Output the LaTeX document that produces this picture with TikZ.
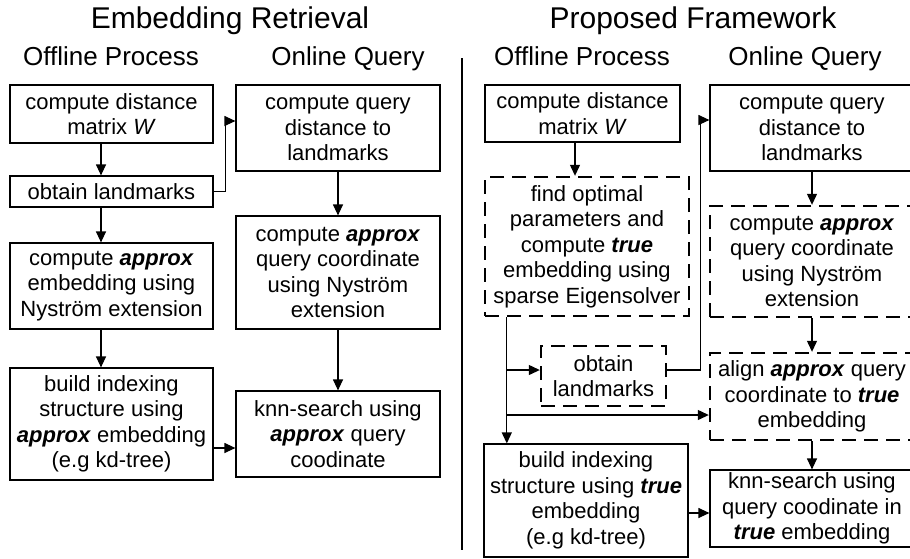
\documentclass[tikz,border=0pt]{standalone}
\usepackage{fontspec}
\setmainfont{Liberation Sans}
\usetikzlibrary{arrows.meta}
\newcommand\bfit[1]{\textbf{\textit{#1}}}
\tikzset{
  solidbox/.style={draw, line width=1.2pt, inner sep=1pt, align=center,
    font=\fontsize{22pt}{25.5pt}\selectfont},
  dashbox/.style={solidbox, line width=2.4pt, dash pattern=on 14pt off 8pt},
  link/.style={line width=1.2pt, -{Triangle[length=11pt,width=10pt]}},
  headline/.style={anchor=base, font=\fontsize{30pt}{36pt}\selectfont},
  subline/.style={anchor=base, font=\fontsize{26pt}{31pt}\selectfont},
}
\begin{document}
\begin{tikzpicture}[x=1pt,y=-1pt]
  \useasboundingbox (0,0) rectangle (910,558);
  % headings
  \node[headline] (headL) at (230,28) {Embedding Retrieval};
  \node[headline] (headR) at (693,28) {Proposed Framework};
  \node[subline] (offL) at (111,65) {Offline Process};
  \node[subline] (onL) at (348,65) {Online Query};
  \node[subline] (offR) at (582,65) {Offline Process};
  \node[subline] (onR) at (805,65) {Online Query};
  \draw[line width=1.2pt] (462,58) -- (462,550);

  % embedding retrieval
  \node[solidbox, minimum width=203, minimum height=58] (ldist) at (111.5,114)
    {compute distance\\matrix \textit{W}};
  \node[solidbox, minimum width=203, minimum height=31] (lland) at (111.5,191.5)
    {obtain landmarks};
  \node[solidbox, minimum width=203, minimum height=86] (lembed) at (111.5,286)
    {compute \bfit{approx}\\embedding using\\Nyström extension};
  \node[solidbox, minimum width=203, minimum height=112] (lindex) at (111.5,424)
    {build indexing\\structure using\\\bfit{approx} embedding\\(e.g kd-tree)};
  \node[solidbox, minimum width=204, minimum height=86] (lqdist) at (338,128)
    {compute query\\distance to\\landmarks};
  \node[solidbox, minimum width=204, minimum height=113] (lqcoord) at (338,272.5)
    {compute \bfit{approx}\\query coordinate\\using Nyström\\extension};
  \node[solidbox, minimum width=204, minimum height=86] (lknn) at (338,434)
    {knn-search using\\\bfit{approx} query\\coodinate};

  \draw[link] ([xshift=-10.5pt]ldist.south) -- ([xshift=-10.5pt]lland.north);
  \draw[link] ([xshift=-10.5pt]lland.south) -- ([xshift=-10.5pt]lembed.north);
  \draw[link] ([xshift=-10.5pt]lembed.south) -- ([xshift=-10.5pt]lindex.north);
  \draw[link] (lland.east) -- ++(12,0) |- ([yshift=7pt]lqdist.west);
  \draw[link] (lqdist) -- (lqcoord);
  \draw[link] (lqcoord) -- (lknn);
  \draw[link] ([yshift=-24pt]lindex.east) -- ([yshift=-24pt]lindex.east -| lknn.west);

  % proposed framework
  \node[solidbox, minimum width=195, minimum height=57] (rdist) at (582.5,113.5)
    {compute distance\\matrix \textit{W}};
  \node[dashbox, minimum width=204, minimum height=139] (ropt) at (587,246.5)
    {find optimal\\parameters and\\compute \bfit{true}\\embedding using\\sparse Eigensolver};
  \node[dashbox, minimum width=125, minimum height=60] (rland) at (603.5,376)
    {obtain\\landmarks};
  \node[solidbox, minimum width=204, minimum height=113] (rindex) at (586,500.5)
    {build indexing\\structure using \bfit{true}\\embedding\\(e.g kd-tree)};
  \node[solidbox, minimum width=204, minimum height=86] (rqdist) at (812,128)
    {compute query\\distance to\\landmarks};
  \node[dashbox, minimum width=204, minimum height=111] (rqcoord) at (812,261.5)
    {compute \bfit{approx}\\query coordinate\\using Nyström\\extension};
  \node[dashbox, minimum width=204, minimum height=87] (ralign) at (812,396.5)
    {align \bfit{approx} query\\coordinate to \bfit{true}\\embedding};
  \node[solidbox, minimum width=204, minimum height=77] (rknn) at (812,508.5)
    {knn-search using\\query coodinate in\\\bfit{true} embedding};

  \draw[link] ([xshift=-7.5pt]rdist.south) coordinate (rtop) -- (rtop |- ropt.north);
  \draw[link] ([xshift=23pt]ropt.south west) coordinate (br) -- (br |- rindex.north);
  \draw[link] ([yshift=6pt]rland.west -| br) -- ([yshift=6pt]rland.west);
  \draw[link] ([yshift=-18.5pt]ralign.west -| br) -- ([yshift=-18.5pt]ralign.west);
  \draw[link] ([yshift=6pt]rland.east) -- ++(33,0) |- ([yshift=8pt]rqdist.west);
  \draw[link] (rqdist) -- (rqcoord);
  \draw[link] (rqcoord) -- (ralign);
  \draw[link] (ralign) -- (rknn);
  \draw[link] ([yshift=-12.5pt]rindex.east) -- ([yshift=-12.5pt]rindex.east -| rknn.west);
\end{tikzpicture}
\end{document}
